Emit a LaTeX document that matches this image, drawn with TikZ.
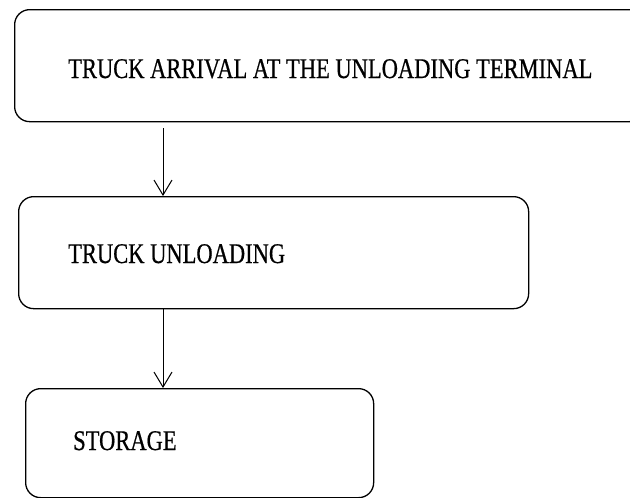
\documentclass[tikz,border=0pt]{standalone}
\usepackage{fontspec}
\setmainfont{Liberation Serif}
\newfontfamily\narrowserif[FakeStretch=0.79,FakeBold=0.6]{Liberation Serif}
\usetikzlibrary{arrows.meta}
\begin{document}
\begin{tikzpicture}[x=1pt,y=-1pt,
  stage/.style={draw, line width=1.3pt, rounded corners=15pt, anchor=north west, inner sep=0pt},
  caption/.style={anchor=base west, inner sep=0pt, font=\narrowserif\fontsize{28.5}{31}\selectfont},
  flow/.style={line width=1pt, -{Straight Barb[length=15pt,width=18pt,line width=1pt]}}]
\useasboundingbox (0,0) rectangle (630,498);
\clip (0,0) rectangle (630,498);
% process stages
\node[stage, minimum width=630pt, minimum height=112pt] (arrival) at (14,9) {};
\node[stage, minimum width=510pt, minimum height=112pt] (unload) at (18,196) {};
\node[stage, minimum width=348pt, minimum height=109pt] (store) at (25,388) {};
% stage labels
\node[caption] (arrivaltext) at (68,78) {TRUCK ARRIVAL AT THE UNLOADING TERMINAL};
\node[caption] (unloadtext) at (68,263) {TRUCK UNLOADING};
\node[caption] (storetext) at (73,450) {STORAGE};
% flow between stages
\coordinate (axis) at (163,0);
\draw[flow, shorten <=6pt] (arrival.south -| axis) -- (unload.north -| axis);
\draw[flow] (unload.south -| axis) -- (store.north -| axis);
\end{tikzpicture}
\end{document}
